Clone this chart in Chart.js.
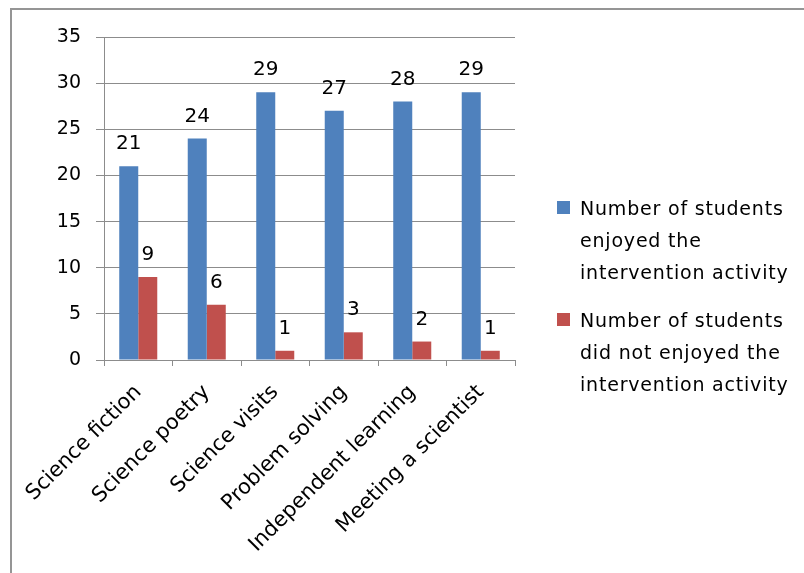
<!DOCTYPE html>
<html>
<head>
<meta charset="utf-8">
<script src="https://cdn.jsdelivr.net/npm/chart.js@4"></script>
<style>
  body { margin: 0; background: #fff; }
  #wrap { width: 804px; height: 573px; }
</style>
</head>
<body>
<div id="wrap"><canvas id="myChart"></canvas></div>
<script>
// activities and answers
var activities = ['Science fiction', 'Science poetry', 'Science visits', 'Problem solving', 'Independent learning', 'Meeting a scientist'];
var enjoyed = [21, 24, 29, 27, 28, 29];
var notEnjoyed = [9, 6, 1, 3, 2, 1];
var legendLines = [
  ['Number of students', 'enjoyed the', 'intervention activity'],
  ['Number of students', 'did not enjoyed the', 'intervention activity']
];

var FONT = '"DejaVu Sans", sans-serif';

// grey frame round the chart
var framePlugin = {
  id: 'frame',
  beforeDraw: function (chart) {
    var ctx = chart.ctx;
    ctx.save();
    ctx.strokeStyle = '#959595';
    ctx.lineWidth = 2;
    ctx.beginPath();
    ctx.moveTo(11, chart.height);
    ctx.lineTo(11, 9);
    ctx.lineTo(chart.width, 9);
    ctx.stroke();
    ctx.restore();
  }
};

// numbers on top of the bars
var valuePlugin = {
  id: 'values',
  afterDatasetsDraw: function (chart) {
    var ctx = chart.ctx;
    ctx.save();
    ctx.font = '20px ' + FONT;
    ctx.fillStyle = '#000';
    ctx.textAlign = 'center';
    ctx.textBaseline = 'alphabetic';
    chart.data.datasets.forEach(function (ds, i) {
      chart.getDatasetMeta(i).data.forEach(function (bar, j) {
        ctx.fillText(ds.data[j], bar.x, bar.y - 17);
      });
    });
    ctx.restore();
  }
};

// legend on the right, wrapped on three lines
var legendPlugin = {
  id: 'sideLegend',
  afterDraw: function (chart) {
    var ctx = chart.ctx;
    ctx.save();
    ctx.font = '19px ' + FONT;
    ctx.letterSpacing = '0.8px';
    ctx.textAlign = 'left';
    ctx.textBaseline = 'alphabetic';
    var tops = [215, 327];
    chart.data.datasets.forEach(function (ds, i) {
      ctx.fillStyle = ds.backgroundColor;
      ctx.fillRect(557, tops[i] - 14, 13, 13);
      ctx.fillStyle = '#000';
      legendLines[i].forEach(function (line, k) {
        ctx.fillText(line, 580, tops[i] + k * 32);
      });
    });
    ctx.restore();
  }
};

var cntxt = document.getElementById('myChart');

var myChart = new Chart(cntxt, {
  type: 'bar',
  data: {
    labels: activities,
    datasets: [
      {
        label: 'Number of students enjoyed the intervention activity',
        data: enjoyed,
        backgroundColor: '#4F81BD'
      },
      {
        label: 'Number of students did not enjoyed the intervention activity',
        data: notEnjoyed,
        backgroundColor: '#C0504D'
      }
    ]
  },
  options: {
    responsive: true,
    maintainAspectRatio: false,
    animation: false,
    datasets: {
      bar: { categoryPercentage: 0.555, barPercentage: 1 }
    },
    layout: {
      padding: { top: 37, right: 289, left: 0, bottom: 0 }
    },
    plugins: {
      legend: { display: false },
      tooltip: { enabled: false }
    },
    scales: {
      x: {
        grid: {
          drawOnChartArea: false,
          drawTicks: true,
          tickLength: 6,
          color: '#8c8c8c'
        },
        border: { color: '#8c8c8c' },
        ticks: {
          color: '#000',
          font: { family: FONT, size: 21 },
          maxRotation: 45,
          minRotation: 45,
          padding: 14
        },
        afterFit: function (scale) { scale.height = 573 - 360; }
      },
      y: {
        min: 0,
        max: 35,
        grid: {
          color: '#8c8c8c',
          tickLength: 8
        },
        border: { color: '#8c8c8c' },
        ticks: {
          stepSize: 5,
          color: '#000',
          font: { family: FONT, size: 19 },
          padding: 15
        },
        afterFit: function (scale) { scale.width = 104; }
      }
    }
  },
  plugins: [framePlugin, valuePlugin, legendPlugin]
});
</script>
</body>
</html>
